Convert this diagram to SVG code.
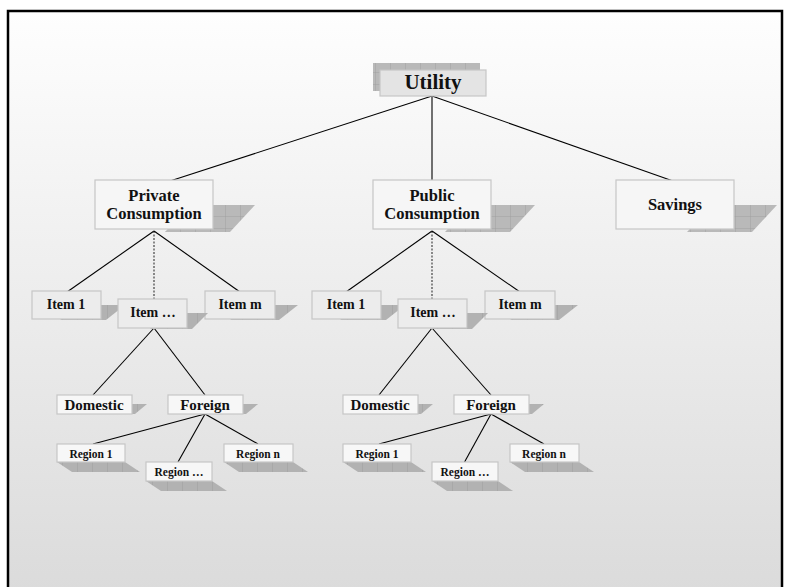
<svg xmlns="http://www.w3.org/2000/svg" width="789" height="587" viewBox="0 0 789 587">
<defs>
<linearGradient id="bg" x1="0" y1="0" x2="0" y2="1">
<stop offset="0" stop-color="#fefefe"/>
<stop offset="1" stop-color="#dbdbdb"/>
</linearGradient>
<pattern id="grid" width="15" height="12" patternUnits="userSpaceOnUse">
<rect width="15" height="12" fill="#b9b9b9"/>
<path d="M0 0V12M0 0H15" stroke="#9c9c9c" stroke-width="0.8" fill="none"/>
</pattern>
<pattern id="vgrid" width="15" height="20" patternUnits="userSpaceOnUse" patternTransform="translate(2 0)">
<rect width="15" height="20" fill="#b2b2b2"/>
<path d="M0 0V20" stroke="#999" stroke-width="0.8" fill="none"/>
</pattern>
</defs>
<style>
text{font-family:"Liberation Serif","Times New Roman",serif;font-weight:bold;fill:#111;text-anchor:middle}
.t1{font-size:21px}
.t2{font-size:16.5px}
.t3{font-size:14px}
.t4{font-size:15px}
.t5{font-size:11.5px}
.bx{stroke:#c6c6c6;stroke-width:1.2}
.b1{fill:#e4e4e4}
.b2{fill:#f6f6f6}
.b3{fill:#ececec}
.b4{fill:#f7f7f7}
.sh{fill:url(#grid)}
.sv{fill:url(#vgrid)}
.ln{stroke:#000;stroke-width:1.1;fill:none}
.dl{stroke:#333;stroke-width:1.1;stroke-dasharray:2 1.5;fill:none}
</style>
<rect x="0" y="0" width="789" height="587" fill="#ffffff"/>
<rect x="8" y="11" width="774" height="582" fill="url(#bg)" stroke="#000" stroke-width="2.5"/>

<g id="connectors">
<line class="ln" x1="432" y1="96" x2="170" y2="181"/>
<line class="ln" x1="432" y1="96" x2="432" y2="181"/>
<line class="ln" x1="432" y1="96" x2="673" y2="181"/>
<line class="ln" x1="154" y1="231" x2="67" y2="292"/>
<line class="dl" x1="154" y1="231" x2="154" y2="299"/>
<line class="ln" x1="154" y1="231" x2="240" y2="292"/>
<line class="ln" x1="154" y1="328" x2="93" y2="395"/>
<line class="ln" x1="154" y1="328" x2="205" y2="395"/>
<line class="ln" x1="205" y1="414" x2="93" y2="444"/>
<line class="ln" x1="205" y1="414" x2="178" y2="462"/>
<line class="ln" x1="205" y1="414" x2="258" y2="444"/>
<line class="ln" x1="432" y1="231" x2="346" y2="292"/>
<line class="dl" x1="432" y1="231" x2="432" y2="299"/>
<line class="ln" x1="432" y1="231" x2="520" y2="292"/>
<line class="ln" x1="432" y1="328" x2="379" y2="395"/>
<line class="ln" x1="432" y1="328" x2="491" y2="395"/>
<line class="ln" x1="491" y1="414" x2="379" y2="444"/>
<line class="ln" x1="491" y1="414" x2="464" y2="463"/>
<line class="ln" x1="491" y1="414" x2="544" y2="444"/>
</g>

<g id="utility">
<rect class="sh" x="373" y="63" width="107" height="28"/>
<rect class="bx b1" x="380" y="70" width="106" height="26"/>
<text class="t1" x="433" y="89">Utility</text>
</g>

<g id="private-consumption">
<polygon class="sh" points="190,205 255,205 230,232 165,232"/>
<rect class="bx b2" x="95" y="180" width="118" height="49"/>
<text class="t2" x="154" y="201">Private</text>
<text class="t2" x="154" y="219">Consumption</text>
</g>

<g id="public-consumption">
<polygon class="sh" points="470,205 535,205 510,232 445,232"/>
<rect class="bx b2" x="373" y="180" width="118" height="49"/>
<text class="t2" x="432" y="201">Public</text>
<text class="t2" x="432" y="219">Consumption</text>
</g>

<g id="savings">
<polygon class="sh" points="712,205 777,205 752,232 687,232"/>
<rect class="bx b2" x="616" y="180" width="118" height="49"/>
<text class="t2" x="675" y="210">Savings</text>
</g>

<g id="p-item1">
<polygon class="sv" points="80,305 125,305 106,320 60,320"/>
<rect class="bx b3" x="32" y="291" width="69" height="28"/>
<text class="t3" x="66" y="309">Item 1</text>
</g>
<g id="p-itemm">
<polygon class="sv" points="250,305 298,305 279,320 230,320"/>
<rect class="bx b3" x="205" y="291" width="70" height="28"/>
<text class="t3" x="240" y="309">Item m</text>
</g>
<g id="p-itemdots">
<polygon class="sv" points="165,313 208,313 192,329 150,329"/>
<rect class="bx b3" x="118" y="299" width="69" height="29"/>
<text class="t3" x="153" y="317">Item …</text>
</g>

<g id="p-domestic">
<polygon class="sv" points="110,404 147,404 135,414 100,414"/>
<rect class="bx b4" x="57" y="395" width="75" height="19"/>
<text class="t4" x="94" y="410">Domestic</text>
</g>
<g id="p-foreign">
<polygon class="sv" points="220,404 258,404 246,414 210,414"/>
<rect class="bx b4" x="168" y="395" width="75" height="19"/>
<text class="t4" x="205" y="410">Foreign</text>
</g>
<g id="p-region1">
<polygon class="sv" points="57,462 125,462 140,472 72,472"/>
<rect class="bx b4" x="57" y="444" width="68" height="18"/>
<text class="t5" x="91" y="458">Region 1</text>
</g>
<g id="p-regionn">
<polygon class="sv" points="224,462 293,462 308,472 239,472"/>
<rect class="bx b4" x="224" y="444" width="69" height="18"/>
<text class="t5" x="258" y="458">Region n</text>
</g>
<g id="p-regiondots">
<polygon class="sv" points="146,481 212,481 227,491 161,491"/>
<rect class="bx b4" x="146" y="462" width="66" height="19"/>
<text class="t5" x="179" y="476">Region …</text>
</g>

<g id="q-item1">
<polygon class="sv" points="360,305 405,305 386,320 340,320"/>
<rect class="bx b3" x="312" y="291" width="69" height="28"/>
<text class="t3" x="346" y="309">Item 1</text>
</g>
<g id="q-itemm">
<polygon class="sv" points="530,305 578,305 559,320 510,320"/>
<rect class="bx b3" x="485" y="291" width="70" height="28"/>
<text class="t3" x="520" y="309">Item m</text>
</g>
<g id="q-itemdots">
<polygon class="sv" points="445,313 488,313 472,329 430,329"/>
<rect class="bx b3" x="398" y="299" width="69" height="29"/>
<text class="t3" x="433" y="317">Item …</text>
</g>

<g id="q-domestic">
<polygon class="sv" points="396,404 433,404 421,414 386,414"/>
<rect class="bx b4" x="343" y="395" width="75" height="19"/>
<text class="t4" x="380" y="410">Domestic</text>
</g>
<g id="q-foreign">
<polygon class="sv" points="506,404 544,404 532,414 496,414"/>
<rect class="bx b4" x="454" y="395" width="75" height="19"/>
<text class="t4" x="491" y="410">Foreign</text>
</g>
<g id="q-region1">
<polygon class="sv" points="343,462 411,462 426,472 358,472"/>
<rect class="bx b4" x="343" y="444" width="68" height="18"/>
<text class="t5" x="377" y="458">Region 1</text>
</g>
<g id="q-regionn">
<polygon class="sv" points="510,462 579,462 594,472 525,472"/>
<rect class="bx b4" x="510" y="444" width="69" height="18"/>
<text class="t5" x="544" y="458">Region n</text>
</g>
<g id="q-regiondots">
<polygon class="sv" points="432,481 498,481 513,491 447,491"/>
<rect class="bx b4" x="432" y="462" width="66" height="19"/>
<text class="t5" x="465" y="476">Region …</text>
</g>
</svg>
